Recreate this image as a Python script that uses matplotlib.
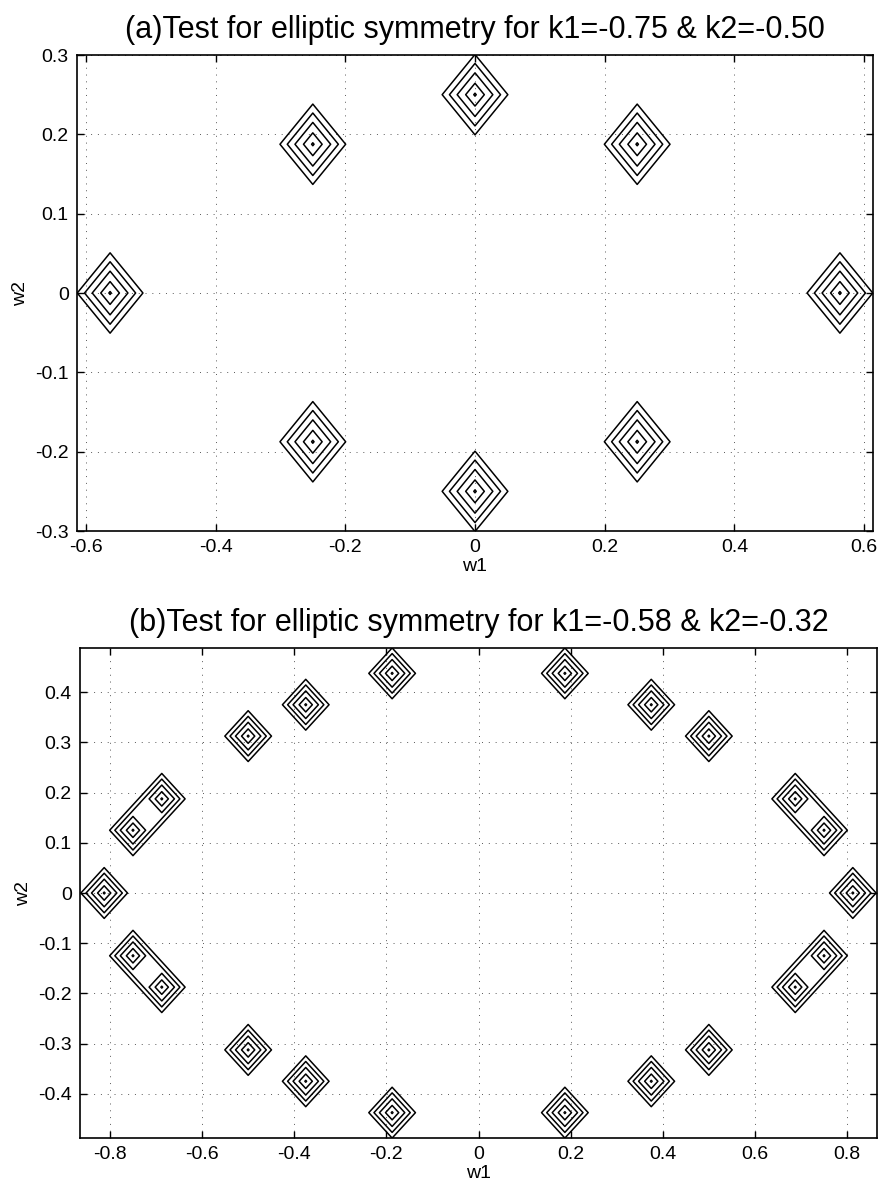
import numpy as np
import matplotlib
matplotlib.use("Agg")
import matplotlib.pyplot as plt

plt.rcParams['font.family'] = ['Liberation Sans', 'DejaVu Sans']
plt.rcParams['axes.unicode_minus'] = False

# ---- data ----
grid_step = 1.0 / 16
levels = [0.19, 0.37, 0.56, 0.77, 0.97]

top_title = "(a)Test for elliptic symmetry for k1=-0.75 & k2=-0.50"
top_w1 = [0.0, 0.25, 0.5625, 0.25, 0.0, -0.25, -0.5625, -0.25]
top_w2 = [0.25, 0.1875, 0.0, -0.1875, -0.25, -0.1875, 0.0, 0.1875]
top_xticks = [-0.6, -0.4, -0.2, 0, 0.2, 0.4, 0.6]
top_yticks = [-0.3, -0.2, -0.1, 0, 0.1, 0.2, 0.3]
top_xlim = [-0.6135, 0.6135]
top_ylim = [-0.3, 0.3]

bot_title = "(b)Test for elliptic symmetry for k1=-0.58 & k2=-0.32"
bot_w1 = [0.1875, 0.375, 0.5, 0.6875, 0.75, 0.8125, 0.75, 0.6875, 0.5, 0.375, 0.1875,
          -0.1875, -0.375, -0.5, -0.6875, -0.75, -0.8125, -0.75, -0.6875, -0.5, -0.375, -0.1875]
bot_w2 = [0.4375, 0.375, 0.3125, 0.1875, 0.125, 0.0, -0.125, -0.1875, -0.3125, -0.375, -0.4375,
          -0.4375, -0.375, -0.3125, -0.1875, -0.125, 0.0, 0.125, 0.1875, 0.3125, 0.375, 0.4375]
bot_xticks = [-0.8, -0.6, -0.4, -0.2, 0, 0.2, 0.4, 0.6, 0.8]
bot_yticks = [-0.4, -0.3, -0.2, -0.1, 0, 0.1, 0.2, 0.3, 0.4]
bot_xlim = [-0.865, 0.865]
bot_ylim = [-0.488, 0.488]


def tick_fmt(v):
    if abs(v) < 1e-12:
        return "0"
    return ("%.1f" % v)


def make_grid(px, py):
    g = np.arange(-16, 17) * grid_step
    Z = np.zeros((g.size, g.size))
    for x, y in zip(px, py):
        i = int(round(y / grid_step)) + 16
        j = int(round(x / grid_step)) + 16
        Z[i, j] = 1.0
    return g, Z


fig = plt.figure(figsize=(8.8, 11.91), dpi=100)
ax1 = fig.add_axes([77/880, 1-531/1191, (873-77)/880, (531-55)/1191])
ax2 = fig.add_axes([80/880, 1-1138/1191, (877-80)/880, (1138-648)/1191])

for ax, px, py, title, xt, yt, xl, yl in [
    (ax1, top_w1, top_w2, top_title, top_xticks, top_yticks, top_xlim, top_ylim),
    (ax2, bot_w1, bot_w2, bot_title, bot_xticks, bot_yticks, bot_xlim, bot_ylim),
]:
    g, Z = make_grid(px, py)
    ax.contour(g, g, Z, levels=levels, colors='black', linewidths=1.1)
    ax.set_xlim(xl)
    ax.set_ylim(yl)
    ax.set_xticks(xt)
    ax.set_yticks(yt)
    ax.set_xticklabels([tick_fmt(v) for v in xt])
    ax.set_yticklabels([tick_fmt(v) for v in yt])
    ax.tick_params(direction='in', length=5, width=1.0, top=True, right=True,
                   labelsize=14, pad=6)
    ax.grid(True, color='0.35', linestyle=(0, (1, 6)), linewidth=0.7)
    for s in ax.spines.values():
        s.set_linewidth(1.2)
    ax.set_title(title, fontsize=22, pad=12)
    ax.set_xlabel("w1", fontsize=14, labelpad=1)
    ax.set_ylabel("w2", fontsize=14, labelpad=4)

fig.savefig("out.png", dpi=100)
